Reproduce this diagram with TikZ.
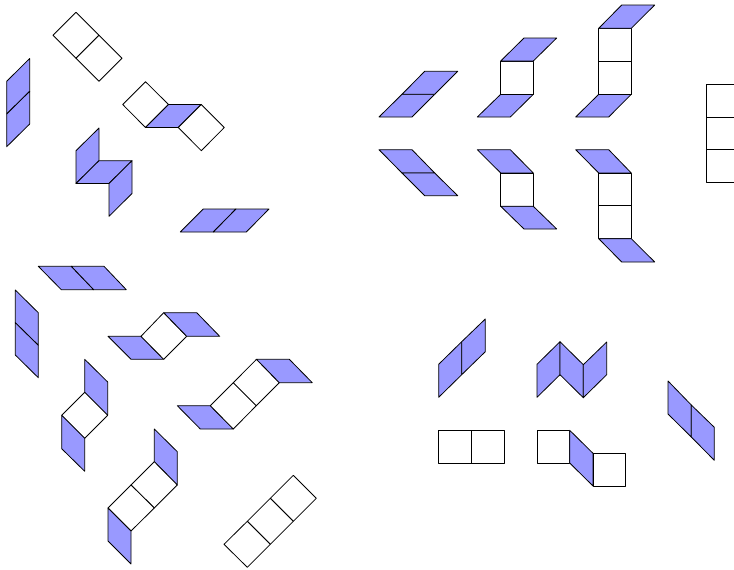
\documentclass[tikz,border=0pt]{standalone}
\tikzset{
  bf/.style={draw=black,fill=blueface,line width=0.8pt,line join=round},
  wf/.style={draw=black,fill=white,line width=0.8pt,line join=round}
}
\definecolor{blueface}{RGB}{153,153,255}
\begin{document}
\begin{tikzpicture}[x=1pt,y=-1pt]
\useasboundingbox (0,0) rectangle (734,570);
\clip (0,0) rectangle (734,570);
% top-left group
\draw[wf] (76,12.3)--(99,35.3)--(76,58.3)--(53,35.3)--cycle;
\draw[wf] (99,35.3)--(122,58.3)--(99,81.3)--(76,58.3)--cycle;
\draw[bf] (6.7,81.3)--(29.7,58.5)--(29.7,91.3)--(6.7,114)--cycle;
\draw[bf] (6.7,114)--(29.7,91.3)--(29.7,124)--(6.7,146.7)--cycle;
\draw[wf] (122.7,104.5)--(145.5,81.7)--(168.5,104.5)--(145.5,127.5)--cycle;
\draw[bf] (145.5,127.5)--(168.5,104.5)--(201.3,104.5)--(178.3,127.5)--cycle;
\draw[wf] (201.3,104.5)--(224.3,127.5)--(201.3,150.7)--(178.3,127.5)--cycle;
\draw[bf] (76,150.7)--(99,128)--(99,160.7)--(76,183.5)--cycle;
\draw[bf] (76,183.5)--(99,160.7)--(132,160.7)--(109,183.5)--cycle;
\draw[bf] (109,183.5)--(132,160.7)--(132,193.5)--(109,216.3)--cycle;
\draw[bf] (180.3,232)--(203.3,209)--(236,209)--(213.3,232)--cycle;
\draw[bf] (213.3,232)--(236,209)--(269,209)--(246.3,232)--cycle;
% top-right group, upper row
\draw[bf] (379,117)--(402,94.3)--(434.7,94.3)--(412,117)--cycle;
\draw[bf] (402,94.3)--(424.7,71.3)--(457.7,71.3)--(434.7,94.3)--cycle;
\draw[bf] (477.3,117)--(500.7,94.3)--(533.3,94.3)--(510.3,117)--cycle;
\draw[wf] (500.7,61)--(533.3,61)--(533.3,94.3)--(500.7,94.3)--cycle;
\draw[bf] (500.7,61)--(524,38)--(556.7,38)--(533.3,61)--cycle;
\draw[bf] (575.7,117)--(598.7,94.3)--(631.3,94.3)--(608.7,117)--cycle;
\draw[wf] (598.7,61.3)--(631.3,61.3)--(631.3,94.3)--(598.7,94.3)--cycle;
\draw[wf] (598.7,28.3)--(631.3,28.3)--(631.3,61.3)--(598.7,61.3)--cycle;
\draw[bf] (598.7,28.3)--(621.7,5)--(654.7,5)--(631.3,28.3)--cycle;
\draw[wf] (706.7,84.3)--(739.5,84.3)--(739.5,117)--(706.7,117)--cycle;
\draw[wf] (706.7,117)--(739.5,117)--(739.5,149.7)--(706.7,149.7)--cycle;
\draw[wf] (706.7,149.7)--(739.5,149.7)--(739.5,182.7)--(706.7,182.7)--cycle;
% top-right group, lower row
\draw[bf] (379,149.7)--(412,149.7)--(434.7,173)--(402,173)--cycle;
\draw[bf] (402,173)--(434.7,173)--(457.7,195.7)--(424.7,195.7)--cycle;
\draw[bf] (477.3,149.7)--(510.3,149.7)--(533.3,173)--(500.7,173)--cycle;
\draw[wf] (500.7,173)--(533.3,173)--(533.3,206.3)--(500.7,206.3)--cycle;
\draw[bf] (500.7,206.3)--(533.3,206.3)--(556.7,229)--(524,229)--cycle;
\draw[bf] (575.7,149.7)--(608.7,149.7)--(631.3,173)--(598.7,173)--cycle;
\draw[wf] (598.7,173)--(631.3,173)--(631.3,205.7)--(598.7,205.7)--cycle;
\draw[wf] (598.7,205.7)--(631.3,205.7)--(631.3,238.7)--(598.7,238.7)--cycle;
\draw[bf] (598.7,238.7)--(631.3,238.7)--(654.7,262)--(621.7,262)--cycle;
% bottom-left group
\draw[bf] (38.3,266.3)--(71.3,266.3)--(93.7,289.7)--(61.3,289.7)--cycle;
\draw[bf] (71.3,266.3)--(104,266.3)--(126.3,289.7)--(93.7,289.7)--cycle;
\draw[bf] (15.3,290)--(38.3,312.7)--(38.3,345.3)--(15.3,322.7)--cycle;
\draw[bf] (15.3,322.7)--(38.3,345.3)--(38.3,377.7)--(15.3,355)--cycle;
\draw[bf] (108,336.3)--(141,336.3)--(163.7,359.3)--(131,359.3)--cycle;
\draw[wf] (141,336.3)--(163.7,312.7)--(186.7,336.3)--(163.7,359.3)--cycle;
\draw[bf] (163.7,312.7)--(196.7,312.7)--(219.7,336.3)--(186.7,336.3)--cycle;
\draw[bf] (84.7,359.3)--(107.7,382)--(107.7,415.3)--(84.7,392.3)--cycle;
\draw[wf] (84.7,392.3)--(107.7,415.3)--(84.7,438.3)--(61.7,415.3)--cycle;
\draw[bf] (61.7,415.3)--(84.7,438.3)--(84.7,471.3)--(61.7,448.7)--cycle;
\draw[bf] (177.3,405.7)--(210.3,405.7)--(233.3,429)--(200.3,429)--cycle;
\draw[wf] (210.3,405.7)--(233.3,429)--(256.3,405.7)--(233.3,382.7)--cycle;
\draw[wf] (233.3,382.7)--(256.3,405.7)--(279.3,382.7)--(256.5,359.3)--cycle;
\draw[bf] (256.5,359.3)--(289.3,359.3)--(312.3,382.7)--(279.3,382.7)--cycle;
\draw[bf] (154.3,429)--(177.3,451.7)--(177.3,485)--(154.3,461.7)--cycle;
\draw[wf] (154.3,461.7)--(177.3,485)--(154.3,508)--(131,485)--cycle;
\draw[wf] (131,485)--(154.3,508)--(131,531)--(108,508)--cycle;
\draw[bf] (108,508)--(131,531)--(131,564)--(108,541)--cycle;
\draw[wf] (293.3,475.3)--(316.3,498.3)--(293.3,521.3)--(270.3,498.3)--cycle;
\draw[wf] (270.3,498.3)--(293.3,521.3)--(270.3,544.3)--(247.3,521.3)--cycle;
\draw[wf] (247.3,521.3)--(270.3,544.3)--(247.3,567.3)--(224,544.3)--cycle;
% bottom-right group
\draw[bf] (438.7,364.3)--(461.7,341.7)--(461.7,374.7)--(438.7,397.3)--cycle;
\draw[bf] (461.7,341.7)--(485.3,319)--(485.3,351.7)--(461.7,374.7)--cycle;
\draw[bf] (537,364.3)--(560,341.7)--(560,374.7)--(537,397.3)--cycle;
\draw[bf] (560,341.7)--(583.3,364.7)--(583.3,397.7)--(560,374.7)--cycle;
\draw[bf] (583.3,364.7)--(606.7,342)--(606.7,374.7)--(583.3,397.7)--cycle;
\draw[bf] (668,381)--(691.3,405)--(691.3,437)--(668,414)--cycle;
\draw[bf] (691.3,405)--(714.3,427.3)--(714.3,460.3)--(691.3,437)--cycle;
\draw[wf] (438.7,430.3)--(471.3,430.3)--(471.3,463)--(438.7,463)--cycle;
\draw[wf] (471.3,430.3)--(504,430.3)--(504,463)--(471.3,463)--cycle;
\draw[wf] (537,430.3)--(569.7,430.3)--(569.7,463)--(537,463)--cycle;
\draw[bf] (569.7,430.3)--(593,453.3)--(593,486)--(569.7,463)--cycle;
\draw[wf] (593,453.3)--(625.7,453.3)--(625.7,486)--(593,486)--cycle;
\end{tikzpicture}
\end{document}
